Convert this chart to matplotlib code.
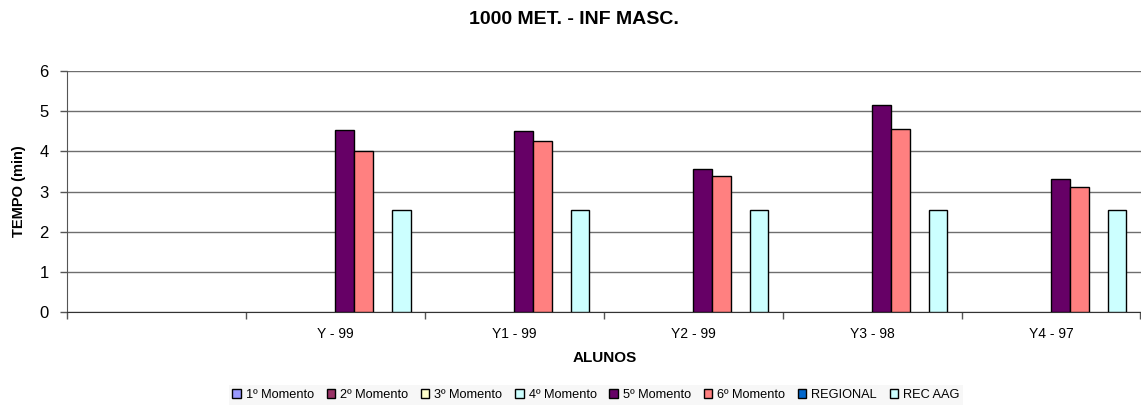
import numpy as np
import matplotlib
matplotlib.use("Agg")
import matplotlib.pyplot as plt
from matplotlib.ticker import FixedLocator

plt.rcParams["font.family"] = ["Liberation Sans", "DejaVu Sans"]

# --- data ---
categories = ["", "Y - 99", "Y1 - 99", "Y2 - 99", "Y3 - 98", "Y4 - 97"]
series_names = ["1º Momento", "2º Momento", "3º Momento", "4º Momento",
                "5º Momento", "6º Momento", "REGIONAL", "REC AAG"]
nan = np.nan
m1 = [nan] * 6
m2 = [nan] * 6
m3 = [nan] * 6
m4 = [nan] * 6
m5 = [nan, 4.53, 4.50, 3.55, 5.15, 3.30]
m6 = [nan, 4.02, 4.25, 3.38, 4.55, 3.10]
regional = [nan] * 6
rec_aag = [nan, 2.55, 2.55, 2.55, 2.55, 2.55]
series_values = [m1, m2, m3, m4, m5, m6, regional, rec_aag]

# Excel 97 default palette
COLORS = ["#9999FF", "#993366", "#FFFFCC", "#CCFFFF",
          "#660066", "#FF8080", "#0066CC", "#CCFFFF"]

W, H = 1141, 405
fig = plt.figure(figsize=(W / 100, H / 100), dpi=100)
ax = fig.add_axes([66.7 / W, 1 - 312 / H, (1140.5 - 66.7) / W, (312 - 71) / H])

x = np.arange(len(categories))
n = len(series_names)
bw = 1 / (n + 1.5)  # gap width 150%
for i, (name, vals, col) in enumerate(zip(series_names, series_values, COLORS)):
    ax.bar(x + (i - (n - 1) / 2) * bw, vals, width=bw, color=col,
           edgecolor="black", linewidth=1.0, label=name, zorder=3)

ax.set_xlim(-0.5, len(categories) - 0.5)
ax.set_ylim(0, 6)
ax.set_yticks(range(0, 7))
ax.yaxis.grid(True, color="#6e6e6e", linewidth=1.0, zorder=0)
ax.tick_params(axis="y", direction="out", length=5, width=1, color="#555555",
               labelsize=12, pad=8)

ax.set_xticks(x)
ax.set_xticklabels(categories)
ax.xaxis.set_minor_locator(FixedLocator(np.arange(-0.5, len(categories), 1.0)))
ax.tick_params(axis="x", which="major", length=0, labelsize=10, pad=11)
ax.tick_params(axis="x", which="minor", direction="out", length=5, width=1,
               color="#555555")

for s in ("top", "right"):
    ax.spines[s].set_visible(False)
ax.spines["left"].set_color("#555555")
ax.spines["bottom"].set_color("#333333")

fig.text(574 / W, 1 - 20 / H, "1000 MET. - INF MASC.", ha="center", va="center",
         fontsize=14, fontweight="bold")
fig.text(19 / W, 1 - 191 / H, "TEMPO (min)", ha="center", va="center",
         rotation=90, fontsize=10.5, fontweight="bold")
fig.text(605 / W, 1 - 358 / H, "ALUNOS", ha="center", va="center",
         fontsize=11, fontweight="bold")

leg = fig.legend(loc="center", bbox_to_anchor=(596 / W, 1 - 395 / H), ncol=n,
                 frameon=True, fontsize=9.2, handlelength=0.65, handleheight=0.65,
                 handletextpad=0.4, columnspacing=1.0, borderpad=0.3,
                 borderaxespad=0)
leg.get_frame().set_facecolor("#f5f5f5")
leg.get_frame().set_edgecolor("none")
leg.get_frame().set_boxstyle("square", pad=0)

fig.savefig("out.png", dpi=100)
